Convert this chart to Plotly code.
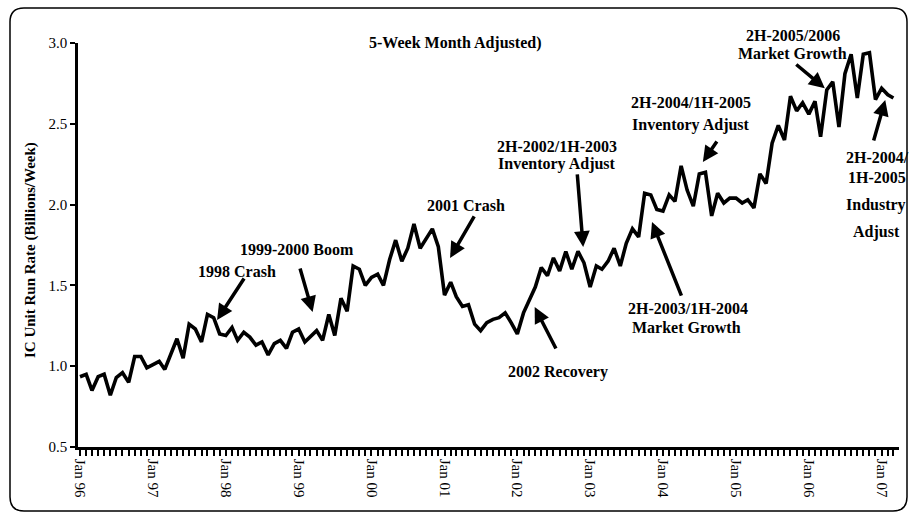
import pandas as pd
import plotly.graph_objects as go

# ---- data (monthly, Jan 1996 .. Mar 2007) ----
start_month = "1996-01-01"
run_rate = [
    # 1996
    0.935, 0.95, 0.85, 0.935, 0.95, 0.82, 0.93, 0.96, 0.90, 1.06, 1.06, 0.99,
    # 1997
    1.01, 1.03, 0.98, 1.08, 1.17, 1.05, 1.26, 1.23, 1.15, 1.32, 1.30, 1.20,
    # 1998
    1.19, 1.24, 1.16, 1.21, 1.18, 1.13, 1.15, 1.07, 1.14, 1.16, 1.11, 1.21,
    # 1999
    1.23, 1.15, 1.18, 1.22, 1.16, 1.32, 1.19, 1.42, 1.34, 1.62, 1.60, 1.50,
    # 2000
    1.55, 1.57, 1.50, 1.66, 1.78, 1.65, 1.73, 1.88, 1.73, 1.79, 1.85, 1.74,
    # 2001
    1.44, 1.52, 1.43, 1.37, 1.38, 1.26, 1.22, 1.27, 1.29, 1.30, 1.33, 1.27,
    # 2002
    1.20, 1.33, 1.40, 1.49, 1.61, 1.56, 1.67, 1.59, 1.71, 1.60, 1.71, 1.64,
    # 2003
    1.49, 1.62, 1.60, 1.65, 1.73, 1.62, 1.76, 1.85, 1.80, 2.07, 2.06, 1.97,
    # 2004
    1.96, 2.06, 2.02, 2.24, 2.09, 1.99, 2.19, 2.20, 1.93, 2.07, 2.01, 2.04,
    # 2005
    2.04, 2.01, 2.03, 1.98, 2.19, 2.13, 2.38, 2.49, 2.40, 2.67, 2.58, 2.63,
    # 2006
    2.56, 2.64, 2.42, 2.71, 2.76, 2.48, 2.81, 2.93, 2.66, 2.93, 2.94, 2.65,
    # 2007
    2.72, 2.68, 2.66,
]
year_ticks = list(range(1996, 2008))
year_labels = ["Jan %02d" % (y % 100) for y in year_ticks]
y_ticks = [0.5, 1.0, 1.5, 2.0, 2.5, 3.0]

title_text = "5-Week Month Adjusted)"
y_title = "IC Unit Run Rate (Billions/Week)"

months = pd.date_range(start_month, periods=len(run_rate), freq="MS")

# ---- layout geometry (pixels) ----
W, H = 910, 517
L, R, T, B = 78, 899, 43, 447
SERIF = "Liberation Serif, Times New Roman, serif"


def pxx(x):
    return (x - L) / (R - L)


def pxy(y):
    return (B - y) / (B - T)


fig = go.Figure()
fig.add_trace(go.Scatter(
    x=months, y=run_rate, mode="lines",
    line=dict(color="black", width=3.6),
    hoverinfo="x+y", showlegend=False,
))

annotations = []

# text labels (center positions in pixels)
text_items = [
    (title_text, 455, 43),
    ("1998 Crash", 237, 271),
    ("1999-2000 Boom", 297, 249),
    ("2001 Crash", 466, 205),
    ("2002 Recovery", 558, 372),
    ("2H-2002/1H-2003", 557, 146),
    ("Inventory Adjust", 557, 164),
    ("2H-2003/1H-2004", 688, 309),
    ("Market Growth", 686, 327),
    ("2H-2004/1H-2005", 691, 102),
    ("Inventory Adjust", 691, 125),
    ("2H-2005/2006", 793, 36),
    ("Market Growth", 792, 53),
    ("2H-2004/", 877, 157),
    ("1H-2005", 877, 178),
    ("Industry", 876, 205),
    ("Adjust", 876, 232),
]
for txt, cx, cy in text_items:
    annotations.append(dict(
        text="<b>%s</b>" % txt, xref="paper", yref="paper",
        x=pxx(cx), y=pxy(cy), xanchor="center", yanchor="middle",
        showarrow=False, font=dict(family=SERIF, size=16, color="black"),
    ))

# arrows: head at data position, tail offset in pixels
arrow_items = [
    ("1997-11-18", 1.286, 28, -43),
    ("1999-03-12", 1.335, -13, -45),
    ("2001-01-29", 1.67, 25, -43),
    ("2002-03-29", 1.366, 22, 43),
    ("2002-11-27", 1.738, -6, -74),
    ("2003-11-07", 1.892, 30, 75),
    ("2004-07-19", 2.264, 15, -22),
    ("2006-03-22", 2.72, -30, -25),
    ("2007-01-19", 2.647, -12, 42),
]
for ax_date, yv, dx, dy in arrow_items:
    annotations.append(dict(
        x=ax_date, y=yv, xref="x", yref="y", text="",
        showarrow=True, ax=dx, ay=dy, axref="pixel", ayref="pixel",
        arrowhead=2, arrowsize=0.9, arrowwidth=3.5, arrowcolor="black",
        standoff=0,
    ))

# y-axis title
annotations.append(dict(
    text="<b>%s</b>" % y_title, xref="paper", yref="paper",
    x=pxx(30), y=pxy(250), textangle=-90, showarrow=False,
    xanchor="center", yanchor="middle",
    font=dict(family=SERIF, size=15, color="black"),
))

# rounded outer border (paper coords built from pixel corners)
x0, y0, x1, y1, r = 10, 8, 907, 511, 14


def P(x, y):
    return "%.5f,%.5f" % (pxx(x), pxy(y))


path = ("M " + P(x0 + r, y0) + " L " + P(x1 - r, y0) +
        " Q " + P(x1, y0) + " " + P(x1, y0 + r) +
        " L " + P(x1, y1 - r) + " Q " + P(x1, y1) + " " + P(x1 - r, y1) +
        " L " + P(x0 + r, y1) + " Q " + P(x0, y1) + " " + P(x0, y1 - r) +
        " L " + P(x0, y0 + r) + " Q " + P(x0, y0) + " " + P(x0 + r, y0) + " Z")

fig.update_layout(
    width=W, height=H,
    margin=dict(l=L, r=W - R, t=T, b=H - B, pad=0),
    paper_bgcolor="white", plot_bgcolor="white",
    showlegend=False,
    annotations=annotations,
    shapes=[dict(type="path", xref="paper", yref="paper", path=path,
                 line=dict(color="black", width=1.5), layer="below")],
    xaxis=dict(
        type="date", range=["1995-12-22", "2007-03-29"],
        tickmode="array",
        tickvals=["%d-01-01" % y for y in year_ticks],
        ticktext=year_labels, tickangle=90,
        ticks="outside", ticklen=6, tickwidth=1.5, tickcolor="black",
        minor=dict(ticks="outside", ticklen=6, tickwidth=1.5,
                   tickcolor="black", dtick="M1", tick0="1996-01-01",
                   showgrid=False),
        showline=True, linecolor="black", linewidth=2.5,
        showgrid=False, zeroline=False,
        tickfont=dict(family=SERIF, size=15, color="black"),
    ),
    yaxis=dict(
        range=[0.5, 3.0], tickmode="array", tickvals=y_ticks,
        tickformat=".1f",
        ticks="outside", ticklen=5, tickwidth=1.5, tickcolor="black",
        showline=True, linecolor="black", linewidth=2.5,
        showgrid=False, zeroline=False,
        tickfont=dict(family=SERIF, size=15, color="black"),
    ),
)

fig.write_html(
    "out.html",
    config=dict(displayModeBar=False),
    post_script="document.body.style.margin='0';"
                "document.body.style.overflow='hidden';",
)
